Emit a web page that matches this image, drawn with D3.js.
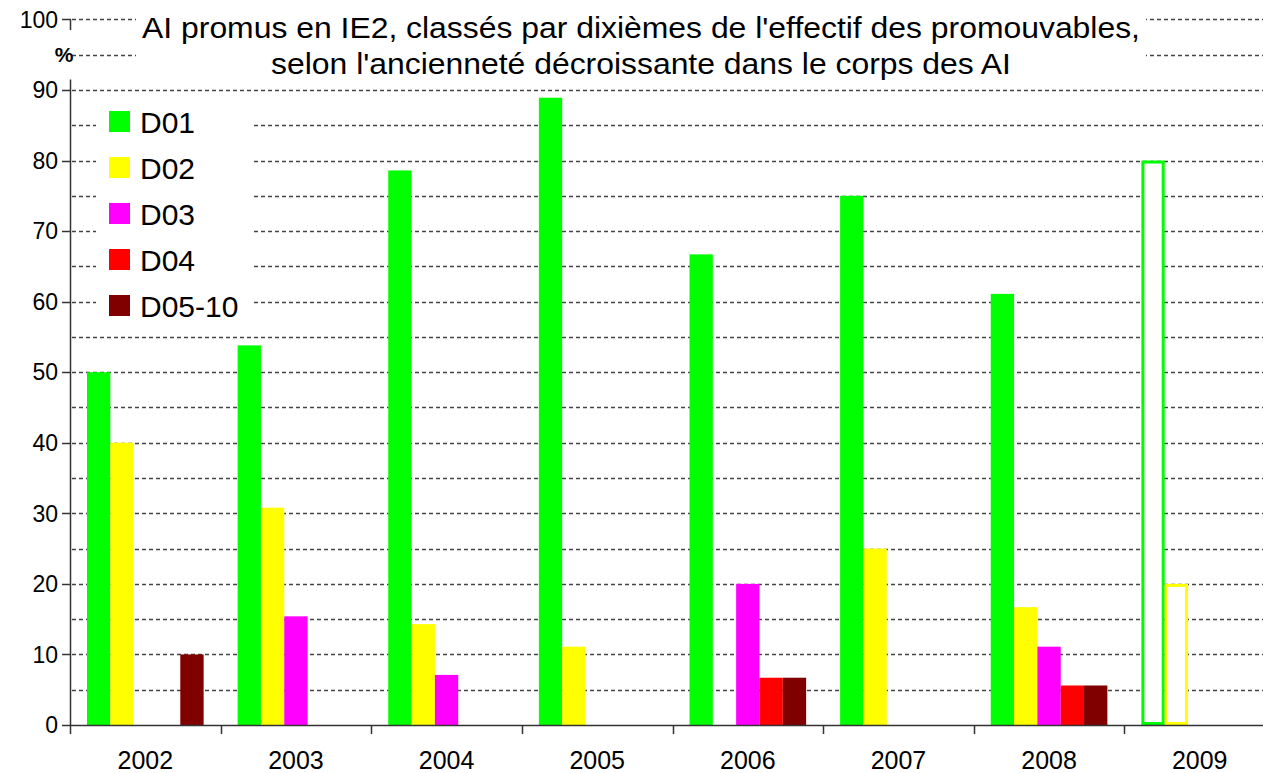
<!DOCTYPE html>
<html>
<head>
<meta charset="utf-8">
<script src="https://cdn.jsdelivr.net/npm/d3@7"></script>
<style>
  body { margin: 0; background: #fff; }
  svg { display: block; font-family: "Liberation Sans", Arial, sans-serif; }
</style>
</head>
<body>
<script>
// Data
const years = ["2002", "2003", "2004", "2005", "2006", "2007", "2008", "2009"];
const series = ["D01", "D02", "D03", "D04", "D05-10"];
const D01 = [50, 53.8, 78.6, 88.9, 66.7, 75, 61.1, 80];
const D02 = [40, 30.8, 14.3, 11.1, 0, 25, 16.7, 20];
const D03 = [0, 15.4, 7.1, 0, 20, 0, 11.1, 0];
const D04 = [0, 0, 0, 0, 6.7, 0, 5.6, 0];
const D0510 = [10, 0, 0, 0, 6.7, 0, 5.6, 0];
const hollowYears = ["2009"];   // outlined bars (forecast)
const yTicks = [0, 10, 20, 30, 40, 50, 60, 70, 80, 90, 100];
const gridValues = d3.range(5, 101, 5);
const titleLines = [
  "AI promus en IE2, classés par dixièmes de l'effectif des promouvables,",
  "selon l'ancienneté décroissante dans le corps des AI"
];

const colors = ["#00ff00", "#ffff00", "#ff00ff", "#ff0000", "#800000"];
const values = [D01, D02, D03, D04, D0510];

const width = 1263, height = 773;

// Build a flat table for the bars
const table = [];
years.forEach((yr, i) => {
  series.forEach((s, j) => {
    table.push({year: yr, key: s, value: values[j][i], color: colors[j]});
  });
});

const svg = d3.select("body").append("svg")
    .attr("width", width)
    .attr("height", height);

const x0 = d3.scaleBand()
    .domain(years)
    .range([70, 1275]);

const x1 = d3.scaleBand()
    .domain(series)
    .range([17, x0.bandwidth() - 17]);

const y = d3.scaleLinear()
    .domain([0, 100])
    .range([725, 19.4]);

// Dashed gridlines
svg.append("g")
  .selectAll("line")
  .data(gridValues)
  .join("line")
    .attr("x1", 72)
    .attr("x2", width)
    .attr("y1", d => Math.round(y(d)) + 0.5)
    .attr("y2", d => Math.round(y(d)) + 0.5)
    .attr("stroke", "#444")
    .attr("stroke-width", 1.3)
    .attr("stroke-dasharray", "4,3");

// Title block (white background hides gridlines)
svg.append("rect")
    .attr("x", 136)
    .attr("y", 0)
    .attr("width", 1010)
    .attr("height", 86)
    .attr("fill", "#fff");

// the original text is a little stretched horizontally
svg.append("g")
    .attr("transform", "translate(641,0) scale(1.1,1)")
  .selectAll("text")
  .data(titleLines)
  .join("text")
    .attr("x", 0)
    .attr("y", (d, i) => 38 + i * 36)
    .attr("text-anchor", "middle")
    .style("font-size", "29px")
    .attr("fill", "#000")
    .text(d => d);

// Legend block
const legend = svg.append("g");
legend.append("rect")
    .attr("x", 96)
    .attr("y", 98)
    .attr("width", 156)
    .attr("height", 230)
    .attr("fill", "#fff");

const item = legend.selectAll("g")
  .data(series)
  .join("g")
    .attr("transform", (d, i) => `translate(109,${111 + i * 46})`);

item.append("rect")
    .attr("width", 21)
    .attr("height", 21)
    .attr("fill", (d, i) => colors[i]);

item.append("text")
    .attr("x", 31)
    .attr("y", 11)
    .attr("dy", "0.36em")
    .style("font-size", "30px")
    .text(d => d);

// Bars
const bars = svg.append("g")
  .selectAll("rect")
  .data(table.filter(d => d.value > 0))
  .join("rect");

bars.filter(d => !hollowYears.includes(d.year))
    .attr("x", d => x0(d.year) + x1(d.key))
    .attr("y", d => y(d.value))
    .attr("width", x1.bandwidth())
    .attr("height", d => y(0) - y(d.value))
    .attr("fill", d => d.color);

bars.filter(d => hollowYears.includes(d.year))
    .attr("x", d => x0(d.year) + x1(d.key) + 1.5)
    .attr("y", d => y(d.value) + 1.5)
    .attr("width", x1.bandwidth() - 3)
    .attr("height", d => y(0) - y(d.value) - 3)
    .attr("fill", "#fff")
    .attr("stroke", d => d.color)
    .attr("stroke-width", 3);

// Y axis
const yAxis = svg.append("g");
yAxis.append("line")
    .attr("x1", 70.5).attr("x2", 70.5)
    .attr("y1", y(0)).attr("y2", y(91.5))
    .attr("stroke", "#333").attr("stroke-width", 1.5);
yAxis.append("line")
    .attr("x1", 70.5).attr("x2", 70.5)
    .attr("y1", y(100)).attr("y2", y(98.5))
    .attr("stroke", "#333").attr("stroke-width", 1.5);

yAxis.selectAll(".tick")
  .data(yTicks)
  .join("line")
    .attr("x1", 62)
    .attr("x2", 71)
    .attr("y1", d => Math.round(y(d)) + 0.5)
    .attr("y2", d => Math.round(y(d)) + 0.5)
    .attr("stroke", "#333")
    .attr("stroke-width", 1.5);

yAxis.selectAll("text")
  .data(yTicks)
  .join("text")
    .attr("x", 58)
    .attr("y", d => y(d))
    .attr("dy", "0.36em")
    .attr("text-anchor", "end")
    .style("font-size", "23px")
    .text(d => d);

svg.append("text")
    .attr("x", 64)
    .attr("y", y(95))
    .attr("dy", "0.36em")
    .attr("text-anchor", "middle")
    .style("font-size", "21px")
    .style("font-weight", "bold")
    .text("%");

// X axis
const xAxis = svg.append("g");
xAxis.append("line")
    .attr("x1", 70).attr("x2", width)
    .attr("y1", 725.5).attr("y2", 725.5)
    .attr("stroke", "#333").attr("stroke-width", 1.5);

xAxis.selectAll(".tick")
  .data(years)
  .join("line")
    .attr("x1", d => Math.round(x0(d)) + 0.5)
    .attr("x2", d => Math.round(x0(d)) + 0.5)
    .attr("y1", 725)
    .attr("y2", 734)
    .attr("stroke", "#333")
    .attr("stroke-width", 1.5);

xAxis.selectAll("text")
  .data(years)
  .join("text")
    .attr("x", d => x0(d) + x0.bandwidth() / 2)
    .attr("y", 760)
    .attr("dy", "0.36em")
    .attr("text-anchor", "middle")
    .style("font-size", "25px")
    .text(d => d);
</script>
</body>
</html>
